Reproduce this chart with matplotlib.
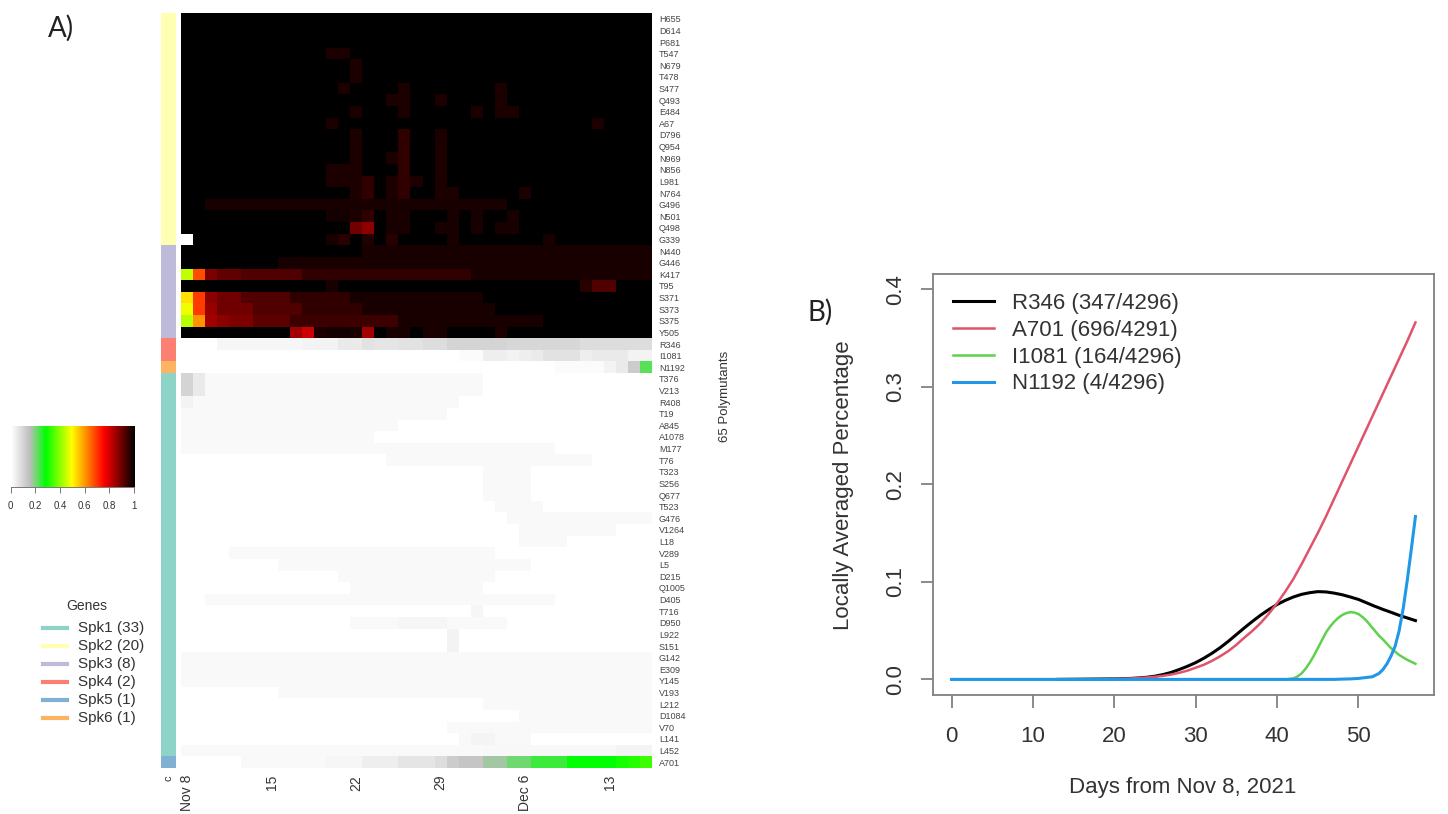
import numpy as np
import matplotlib
matplotlib.use('Agg')
import matplotlib.pyplot as plt
from matplotlib.colors import LinearSegmentedColormap, ListedColormap
from matplotlib.lines import Line2D

W, H = 1448, 814
plt.rcParams['font.family'] = ['Liberation Sans', 'DejaVu Sans']

# --- heatmap data ---
mutants = ['H655', 'D614', 'P681', 'T547', 'N679', 'T478', 'S477', 'Q493', 'E484', 'A67',
           'D796', 'Q954', 'N969', 'N856', 'L981', 'N764', 'G496', 'N501', 'Q498', 'G339',
           'N440', 'G446', 'K417', 'T95', 'S371', 'S373', 'S375', 'Y505',
           'R346', 'I1081', 'N1192',
           'T376', 'V213', 'R408', 'T19', 'A845', 'A1078', 'M177', 'T76', 'T323', 'S256',
           'Q677', 'T523', 'G476', 'V1264', 'L18', 'V289', 'L5', 'D215', 'Q1005', 'D405',
           'T716', 'D950', 'L922', 'S151', 'G142', 'E309', 'Y145', 'V193', 'L212', 'D1084',
           'V70', 'L141', 'L452', 'A701']
n_days = 39
date_ticks = [0, 7, 14, 21, 28, 35]
date_labels = ['Nov 8', '15', '22', '29', 'Dec 6', '13']

# row groups: 0 Spk1, 1 Spk2, 2 Spk3, 3 Spk4, 4 Spk5, 5 Spk6
row_groups = [1] * 20 + [2] * 8 + [3] * 2 + [5] + [0] * 33 + [4]
gene_names = ['Spk1 (33)', 'Spk2 (20)', 'Spk3 (8)', 'Spk4 (2)', 'Spk5 (1)', 'Spk6 (1)']
gene_colors = ['#8dd3c7', '#ffffb3', '#bebada', '#fb8072', '#80b1d3', '#fdb462']

# runs are (first day, last day, value); rows not listed keep their default
dark_runs = {
    'T547': [(12, 13, .97)],
    'N679': [(14, 14, .97)],
    'T478': [(14, 14, .97)],
    'S477': [(13, 13, .97), (18, 18, .97), (26, 26, .97)],
    'Q493': [(17, 18, .97), (21, 21, .97), (26, 26, .97)],
    'E484': [(14, 14, .97), (18, 18, .97), (24, 24, .97), (26, 27, .97)],
    'A67': [(12, 12, .97), (34, 34, .97)],
    'D796': [(14, 14, .97), (18, 18, .95), (21, 21, .97)],
    'Q954': [(14, 14, .97), (18, 18, .95), (21, 21, .97)],
    'N969': [(14, 14, .97), (17, 17, .97), (18, 18, .95), (21, 21, .97)],
    'N856': [(12, 14, .97), (18, 18, .95), (21, 21, .97)],
    'L981': [(12, 14, .97), (15, 15, .95), (17, 17, .97), (18, 18, .95), (19, 19, .97), (21, 21, .97)],
    'N764': [(14, 14, .97), (15, 15, .95), (17, 17, .97), (18, 18, .95), (21, 22, .97), (28, 28, .97)],
    'G496': [(2, 26, .975)],
    'N501': [(12, 13, .98), (14, 14, .97), (15, 15, .95), (17, 18, .975), (22, 22, .975), (24, 24, .975), (27, 27, .975)],
    'Q498': [(14, 14, .89), (15, 15, .86), (17, 18, .975), (21, 22, .975), (24, 24, .975), (26, 27, .975)],
    'G339': [(0, 0, 0), (12, 12, .975), (13, 13, .96), (15, 15, .965), (17, 17, .96), (22, 22, .975), (30, 30, .975)],
    'N440': [(15, 38, .975)],
    'G446': [(8, 38, .975)],
    'K417': [(0, 0, .4375), (1, 1, .67), (2, 2, .875), (3, 4, .905), (5, 9, .92), (10, 23, .953), (24, 38, .975)],
    'T95': [(12, 12, .975), (33, 33, .96), (34, 35, .92)],
    'S371': [(0, 0, .52), (1, 1, .69), (2, 2, .86), (3, 4, .89), (5, 8, .92), (9, 13, .95), (14, 24, .975)],
    'S373': [(0, 0, .48), (1, 1, .69), (2, 2, .85), (3, 5, .89), (6, 9, .92), (10, 14, .95), (15, 25, .975)],
    'S375': [(0, 0, .43), (1, 1, .6), (2, 2, .84), (3, 3, .86), (4, 5, .875), (6, 8, .91), (9, 17, .94), (18, 29, .975)],
    'Y505': [(9, 9, .84), (10, 10, .8), (11, 11, .97), (12, 13, .98), (14, 14, .97), (15, 15, .84),
             (17, 18, .975), (20, 21, .975), (26, 26, .97)],
}
light_runs = {
    'R346': [(3, 9, .02), (10, 12, .03), (13, 14, .05), (15, 15, .07), (16, 17, .06), (18, 19, .07),
             (20, 21, .08), (22, 26, .1), (27, 32, .09), (33, 38, .08)],
    'I1081': [(23, 24, .01), (25, 26, .04), (27, 27, .03), (28, 28, .04), (29, 29, .05), (30, 32, .07),
              (33, 33, .04), (34, 36, .05), (37, 38, .03)],
    'N1192': [(31, 34, .01), (35, 35, .03), (36, 36, .05), (37, 37, .12), (38, 38, .22)],
    'T376': [(0, 0, .1), (1, 1, .05), (2, 24, .012)],
    'V213': [(0, 0, .1), (1, 1, .05), (2, 24, .012)],
    'R408': [(0, 0, .03), (1, 22, .012)],
    'T19': [(0, 21, .012)],
    'A845': [(0, 17, .012)],
    'A1078': [(0, 15, .012)],
    'M177': [(0, 30, .012)],
    'T76': [(17, 33, .012)],
    'T323': [(25, 28, .012)],
    'S256': [(25, 28, .012)],
    'Q677': [(25, 28, .012)],
    'T523': [(26, 29, .012)],
    'G476': [(27, 38, .012)],
    'V1264': [(28, 35, .012)],
    'L18': [(28, 31, .012)],
    'V289': [(4, 25, .012)],
    'L5': [(8, 28, .012)],
    'D215': [(13, 25, .012)],
    'Q1005': [(14, 24, .012)],
    'D405': [(2, 30, .012)],
    'T716': [(24, 24, .02)],
    'D950': [(14, 17, .012), (18, 21, .02), (22, 26, .012)],
    'L922': [(22, 22, .03)],
    'S151': [(22, 22, .03)],
    'G142': [(0, 38, .012)],
    'E309': [(0, 38, .012)],
    'Y145': [(0, 38, .012)],
    'V193': [(8, 38, .012)],
    'L212': [(25, 38, .012)],
    'D1084': [(28, 38, .012)],
    'V70': [(22, 38, .012)],
    'L141': [(23, 23, .012), (24, 25, .025), (26, 28, .012)],
    'L452': [(0, 24, .012), (25, 35, .018), (36, 38, .025)],
    'A701': [(5, 11, .012), (12, 14, .02), (15, 17, .04), (18, 20, .06), (21, 21, .08), (22, 22, .12),
             (23, 24, .135), (25, 26, .17), (27, 28, .205), (29, 31, .24), (32, 35, .28),
             (36, 36, .3), (37, 37, .31), (38, 38, .33)],
}

# --- curve data for panel B ---
days_r346 = [13, 20, 21, 22, 23, 24, 25, 26, 27, 28, 29, 30, 31, 32, 33, 34, 35, 36, 37, 38, 39, 40,
             41, 42, 43, 44, 45, 46, 47, 48, 49, 50, 51, 52, 53, 54, 55, 56, 57]
r346 = [0, .0005, .0007, .001, .0015, .0022, .0033, .005, .0072, .0102, .0135, .0172, .0217, .0268,
        .0325, .039, .046, .053, .0597, .066, .0717, .0768, .081, .0845, .0872, .0889, .09, .0897,
        .0885, .0868, .0845, .082, .0785, .075, .0718, .0688, .0657, .063, .0603]
days_a701 = [20, 21, 22, 23, 24, 25, 26, 27, 28, 29, 30, 31, 32, 33, 34, 35, 36, 37, 38, 39, 40,
             41, 42, 43, 44, 45, 46, 47, 48, 49, 50, 51, 52, 53, 54, 55, 56, 57]
a701 = [.0005, .0007, .001, .0014, .002, .0027, .0037, .005, .0068, .009, .012, .015, .019, .0237,
        .029, .0355, .043, .05, .058, .0675, .078, .09, .103, .118, .134, .15, .167, .185, .203,
        .221, .239, .257, .275, .293, .311, .329, .347, .366]
days_i1081 = [0, 41, 41.5, 42, 42.5, 43, 43.5, 44, 44.5, 45, 45.5, 46, 46.5, 47, 47.5, 48, 48.5, 49,
              49.5, 50, 50.5, 51, 51.5, 52, 52.5, 53, 54, 55, 56, 57]
i1081 = [0, 0, .0005, .001, .003, .006, .011, .017, .024, .032, .04, .048, .054, .059, .063, .066,
         .068, .069, .0685, .067, .064, .06, .055, .05, .045, .041, .032, .025, .02, .016]
days_n1192 = [0, 47, 48, 49, 50, 51, 51.7, 52.5, 53, 53.5, 54, 54.5, 55, 55.5, 56, 56.5, 57]
n1192 = [0, 0, .0003, .0005, .001, .002, .0027, .006, .01, .016, .024, .034, .05, .073, .102, .134, .167]
curve_labels = ['R346 (347/4296)', 'A701 (696/4291)', 'I1081 (164/4296)', 'N1192 (4/4296)']
curve_colors = ['#000000', '#DF536B', '#61D04F', '#2297E6']


def px_axes(fig, left, top, right, bottom):
    # figure axes from pixel box of the picture
    return fig.add_axes([left / W, 1 - bottom / H, (right - left) / W, (bottom - top) / H])


fig = plt.figure(figsize=(W / 100, H / 100), dpi=100, facecolor='white')

# colours: white > grey > green > yellow > red > black
heat_cmap = LinearSegmentedColormap.from_list('heat', [
    (0, '#ffffff'), (.15, '#bebebe'), (.28, '#00ff00'), (.49, '#ffff00'), (.75, '#ff0000'), (1, '#000000')])

# --- A) heatmap ---
mat = np.zeros((len(mutants), n_days))
mat[:28, :] = 1.0
for runs in (dark_runs, light_runs):
    for name, row in runs.items():
        for first, last, val in row:
            mat[mutants.index(name), first:last + 1] = val

ax = px_axes(fig, 181, 13, 652, 768)
ax.imshow(mat, cmap=heat_cmap, vmin=0, vmax=1, aspect='auto', interpolation='nearest')
for s in ax.spines.values():
    s.set_visible(False)
ax.set_xticks(date_ticks, date_labels, rotation=90, fontsize=10, color='#333333')
ax.tick_params(axis='x', length=0, pad=5)
ax.yaxis.tick_right()
ax.set_yticks(range(len(mutants)), mutants, fontsize=6.5, color='#444444')
ax.tick_params(axis='y', length=0, pad=5)

# gene colour strip
side = px_axes(fig, 161, 13, 176, 768)
side.imshow(np.array(row_groups).reshape(-1, 1), cmap=ListedColormap(gene_colors), vmin=0, vmax=5,
            aspect='auto', interpolation='nearest')
side.set_yticks([])
side.set_xticks([0], ['c'], rotation=90, fontsize=8, color='#333333')
side.tick_params(axis='x', length=0, pad=5)
for s in side.spines.values():
    s.set_visible(False)

fig.text(725 / W, 1 - 396 / H, '65 Polymutants', rotation=90, ha='center', va='center',
         fontsize=9.5, color='#333333')
fig.text(48 / W, 1 - 28 / H, 'A)', family='Lato', fontsize=20, va='center', color='#222222')

# --- colour key ---
key = px_axes(fig, 10.7, 426, 134, 487)
key.imshow(np.linspace(0, 1, 256).reshape(1, -1), cmap=heat_cmap, vmin=0, vmax=1, aspect='auto',
           extent=[0, 1, 0, 1])
key.set_yticks([])
key.set_xticks([0, .2, .4, .6, .8, 1], ['0', '0.2', '0.4', '0.6', '0.8', '1'], fontsize=7, color='#333333')
key.tick_params(axis='x', length=4, width=.7, color='#777777', pad=6)
for side_name in ('top', 'left', 'right'):
    key.spines[side_name].set_visible(False)
key.spines['bottom'].set_color('#777777')
key.spines['bottom'].set_linewidth(.7)

# --- gene legend ---
fig.text(87 / W, 1 - 606 / H, 'Genes', ha='center', va='center', fontsize=10, color='#333333')
legend_y = [628, 646, 664, 682, 700, 718]
for name, col, y in zip(gene_names, gene_colors, legend_y):
    fig.add_artist(Line2D([43 / W, 67 / W], [1 - y / H, 1 - y / H], color=col, lw=3))
    fig.text(78 / W, 1 - y / H, name, va='center', fontsize=11, color='#333333')

# --- B) curves ---
bx = px_axes(fig, 933, 274, 1434, 695)
bx.plot(days_r346, r346, color=curve_colors[0], lw=2.2, label=curve_labels[0])
bx.plot(days_a701, a701, color=curve_colors[1], lw=1.8, label=curve_labels[1])
bx.plot(days_i1081, i1081, color=curve_colors[2], lw=1.8, label=curve_labels[2])
bx.plot(days_n1192, n1192, color=curve_colors[3], lw=2.2, label=curve_labels[3])
bx.set_xlim(-2.28, 59.28)
bx.set_ylim(-.016, .4157)
bx.set_xticks([0, 10, 20, 30, 40, 50])
bx.set_yticks([0, .1, .2, .3, .4], ['0.0', '0.1', '0.2', '0.3', '0.4'])
bx.tick_params(axis='x', length=9, width=1.2, color='#777777', labelsize=16, labelcolor='#333333', pad=13)
bx.tick_params(axis='y', length=9, width=1.2, color='#777777', labelsize=16, labelcolor='#333333', pad=10)
for lab in bx.get_yticklabels():
    lab.set_rotation(90)
    lab.set_va('center')
for s in bx.spines.values():
    s.set_color('#808080')
    s.set_linewidth(1.3)
fig.text(1183 / W, 1 - 788 / H, 'Days from Nov 8, 2021', ha='center', va='center', fontsize=16, color='#333333')
fig.text(843 / W, 1 - 485 / H, 'Locally Averaged Percentage', rotation=90, ha='center', va='center',
         fontsize=16, color='#333333')
leg = bx.legend(loc='upper left', bbox_to_anchor=(.04, .955), frameon=False, fontsize=16, handlelength=1.85,
                handletextpad=.8, labelspacing=.26, borderaxespad=0, borderpad=0)
for t in leg.get_texts():
    t.set_color('#333333')
fig.text(808 / W, 1 - 312 / H, 'B)', family='Lato', fontsize=20, va='center', color='#222222')

plt.savefig('out.png', dpi=100)
plt.close()
